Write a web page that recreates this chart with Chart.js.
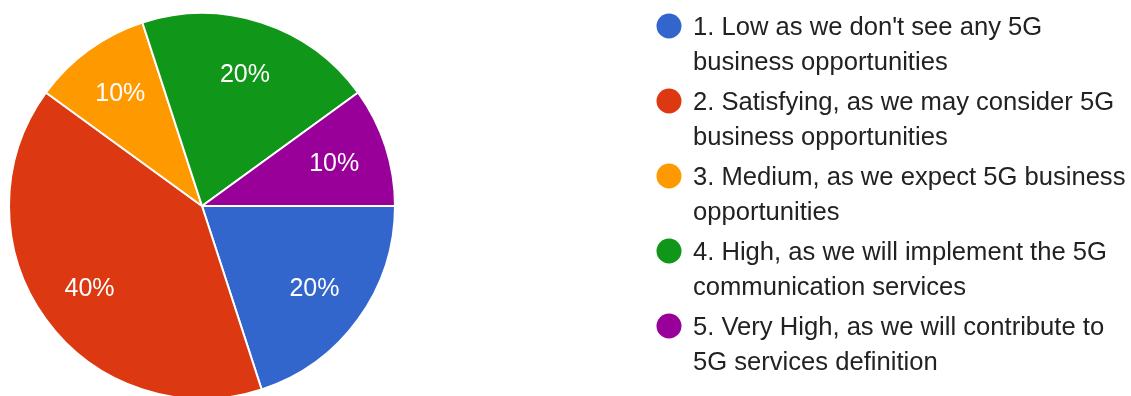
<!DOCTYPE html>
<html>
<head>
<meta charset="utf-8">
<script src="https://cdn.jsdelivr.net/npm/chart.js@4"></script>
<style>
  html, body { margin: 0; padding: 0; background: #fff; overflow: hidden; }
  #wrap { width: 1131px; height: 420px; }
</style>
</head>
<body>
<div id="wrap"><canvas id="pie" width="1131" height="420"></canvas></div>
<script>
// answer options and how many picked each one
const categories = [
    "1. Low as we don't see any 5G business opportunities",
    '2. Satisfying, as we may consider 5G business opportunities',
    '3. Medium, as we expect 5G business opportunities',
    '4. High, as we will implement the 5G communication services',
    '5. Very High, as we will contribute to 5G services definition'
];
const responses = [2, 4, 1, 2, 1];
const colors = ['#3366cc', '#dc3912', '#ff9900', '#109618', '#990099'];

const FONT = '"Liberation Sans", Arial, sans-serif';

// white percentage text inside each slice
const sliceLabels = {
    id: 'sliceLabels',
    afterDatasetsDraw(chart) {
        const { ctx } = chart;
        const meta = chart.getDatasetMeta(0);
        const data = chart.data.datasets[0].data;
        const total = data.reduce((a, b) => a + b, 0);
        ctx.save();
        ctx.fillStyle = '#fff';
        ctx.font = '25px ' + FONT;
        ctx.textAlign = 'center';
        ctx.textBaseline = 'middle';
        meta.data.forEach((arc, i) => {
            const { x, y, startAngle, endAngle, outerRadius } = arc.getProps(['x', 'y', 'startAngle', 'endAngle', 'outerRadius'], true);
            const mid = (startAngle + endAngle) / 2;
            const r = outerRadius * 0.72;
            const pct = Math.round(data[i] / total * 100) + '%';
            ctx.fillText(pct, x + Math.cos(mid) * r, y + Math.sin(mid) * r + 1);
        });
        ctx.restore();
    }
};

// legend on the right with wrapped text
const sideLegend = {
    id: 'sideLegend',
    afterDraw(chart) {
        const { ctx } = chart;
        const left = 693, maxW = 440;
        let y = 28;
        ctx.save();
        ctx.font = '25.6px ' + FONT;
        ctx.textBaseline = 'middle';
        chart.data.labels.forEach((label, i) => {
            // split into lines that fit
            const words = label.split(' ');
            const lines = [];
            let cur = '';
            words.forEach(w => {
                const test = cur ? cur + ' ' + w : w;
                if (ctx.measureText(test).width > maxW && cur) {
                    lines.push(cur);
                    cur = w;
                } else {
                    cur = test;
                }
            });
            lines.push(cur);

            ctx.fillStyle = colors[i];
            ctx.beginPath();
            ctx.arc(669, y - 2, 12.5, 0, Math.PI * 2);
            ctx.fill();

            ctx.fillStyle = '#222';
            lines.forEach((ln, j) => ctx.fillText(ln, left, y + j * 35));
            y += lines.length * 35 + 5;
        });
        ctx.restore();
    }
};

new Chart(document.getElementById('pie'), {
    type: 'pie',
    data: {
        labels: categories,
        datasets: [{
            data: responses,
            backgroundColor: colors,
            borderColor: '#fff',
            borderWidth: 2,
            radius: 193
        }]
    },
    options: {
        responsive: false,
        animation: false,
        events: [],
        rotation: 90,
        layout: {
            padding: { left: 10, right: 737, top: 14, bottom: 22 }
        },
        plugins: {
            legend: { display: false },
            tooltip: { enabled: false }
        }
    },
    plugins: [sliceLabels, sideLegend]
});
</script>
</body>
</html>
